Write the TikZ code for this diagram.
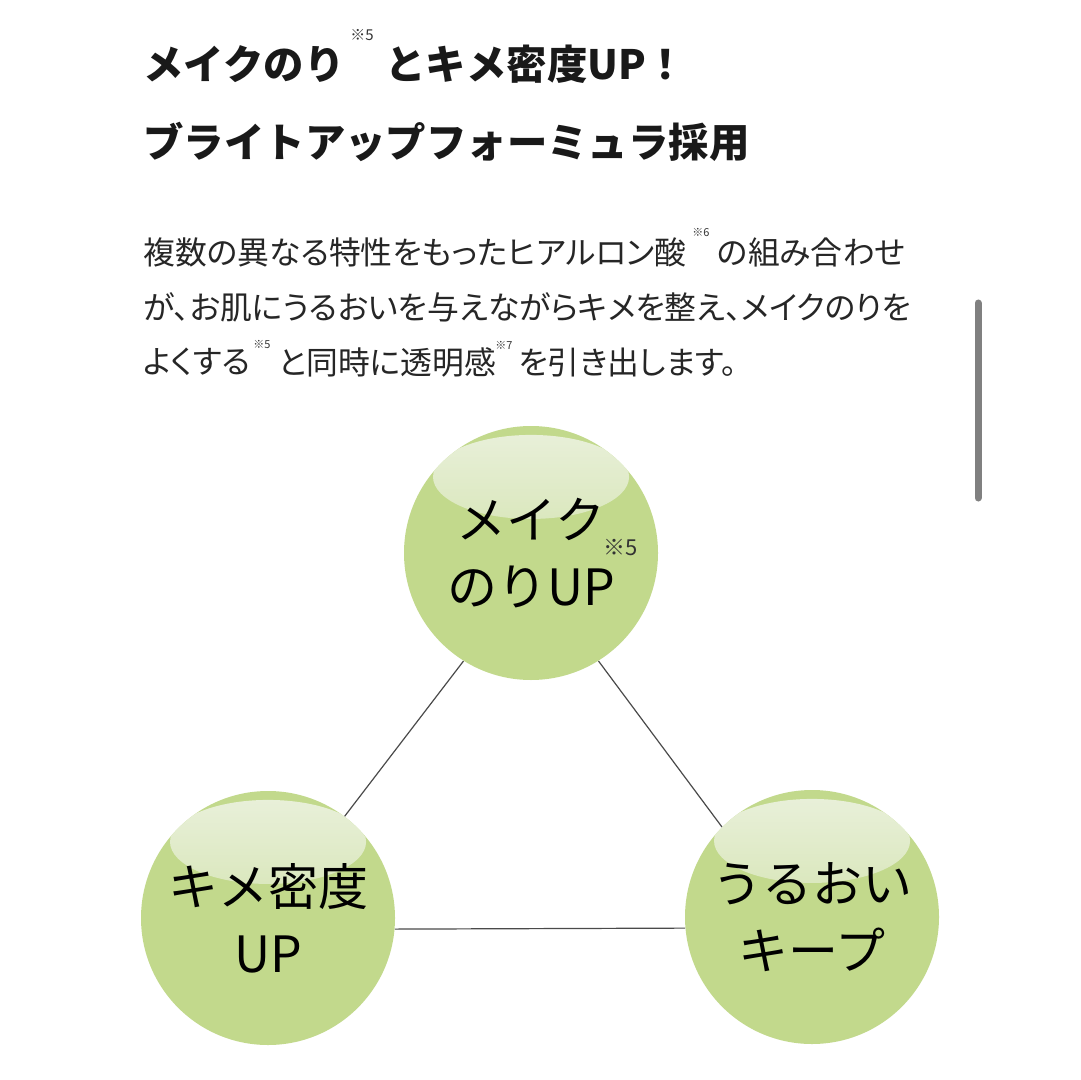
\documentclass[tikz,border=0pt]{standalone}
\usepackage{fontspec}
\setmainfont{Noto Sans CJK JP}
\newfontfamily\bodyfont[RawFeature=+palt]{Noto Sans CJK JP}
\usepackage{tikz}
\usetikzlibrary{fadings}
\definecolor{ballgreen}{HTML}{C2D98C}
\definecolor{glossgreen}{HTML}{EAF1DC}
\definecolor{edgegray}{HTML}{4A4A4A}
\definecolor{bargray}{HTML}{808080}
\tikzfading[name=glossfade, top color=transparent!0, middle color=transparent!100, bottom color=transparent!100]
\tikzset{
  ball/.style={circle, fill=ballgreen, minimum size=127pt, inner sep=0pt, align=center,
    font=\fontsize{25}{33.5}\selectfont,
    path picture={\fill[glossgreen, path fading=glossfade]
      ([yshift=38pt]path picture bounding box.center) ellipse [x radius=49pt, y radius=21pt];}},
  headline/.style={anchor=west, inner sep=0pt, text=black!90, font=\fontsize{20.2}{24}\bfseries\selectfont},
  bodyline/.style={anchor=west, inner sep=0pt, text=black!85, font=\bodyfont\fontsize{15.9}{18}\selectfont},
  note/.style={anchor=west, inner sep=0pt, text=black!80, font=\fontsize{5.5}{6}\selectfont},
}

\begin{document}
\begin{tikzpicture}[x=0.5pt, y=-0.5pt]
    \useasboundingbox[fill=white] (0, 0) rectangle (1080, 1080);
    % heading
    \node[headline] (10) at (143, 64) {メイクのり};
    \node[note, font=\fontsize{7.5}{8}\selectfont] (11) at (350, 35) {※5};
    \node[headline] (12) at (385, 64) {とキメ密度UP！};
    \node[headline] (13) at (143, 142) {ブライトアップフォーミュラ採用};
    % text
    \node[bodyline] (20) at (143, 252) {複数の異なる特性をもったヒアルロン酸};
    \node[note] (21) at (692, 233) {※6};
    \node[bodyline] (22) at (717, 252) {の組み合わせ};
    \node[bodyline] (23) at (143, 307) {が、お肌にうるおいを与えながらキメを整え、メイクのりを};
    \node[bodyline] (24) at (143, 362) {よくする};
    \node[note] (25) at (253, 345) {※5};
    \node[bodyline] (26) at (278, 362) {と同時に透明感};
    \node[note] (27) at (495, 345) {※7};
    \node[bodyline] (28) at (518, 362) {を引き出します。};
    % balls
    \node[ball] (0) at (531, 553) {メイク\\のりUP};
    \node[note, font=\fontsize{11}{12}\selectfont] (1) at (603, 548) {※5};
    \node[ball] (2) at (268, 918) {キメ密度\\UP};
    \node[ball] (3) at (812, 917) {うるおい\\キープ};
    \draw [-, edgegray, line width=0.6pt] (0.238) to (2.53);
    \draw [-, edgegray, line width=0.6pt] (0.302) to (3.135);
    \draw [-, edgegray, line width=0.6pt] (2.-5.4) to (3.185.8);
    % scroll bar
    \draw [bargray, line width=3.5pt, line cap=round] (978, 303)--(978, 498);
  \end{tikzpicture}
\end{document}
